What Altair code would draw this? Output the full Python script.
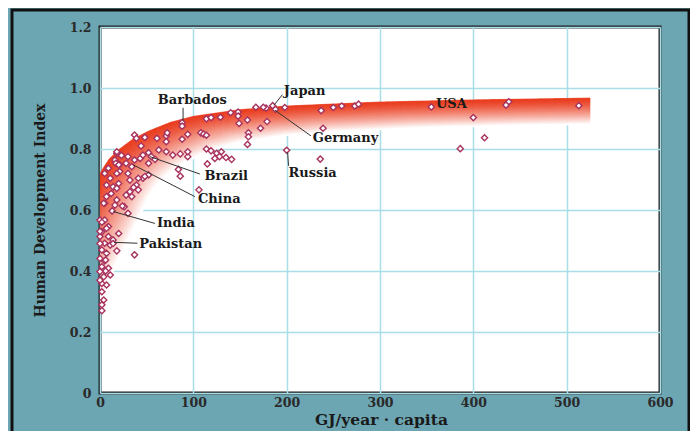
import numpy as np
import pandas as pd
import altair as alt

# ---- scatter data (GJ/year per capita, HDI) ----
gj = [355, 438, 435, 513, 400, 412, 386,
      185, 188, 198, 178, 167, 175, 237, 250, 259, 273, 277, 239, 179, 200, 236, 172,
      88, 88, 114, 119, 129, 140, 148, 148, 158, 149, 159, 159, 158,
      108, 111, 114, 94, 88, 71, 72, 71, 61, 48, 37, 39, 44,
      30, 23, 18, 16, 17, 21, 28, 34, 37, 43, 46, 52, 55, 52, 59, 63, 71, 78, 86, 94, 94,
      84, 86, 115, 114, 119, 125, 130, 128, 135, 141, 123, 106,
      5, 9, 11, 7, 14, 12, 7, 18, 5, 16, 26, 13, 20, 21, 32, 39, 36, 32, 41, 28, 46, 52,
      18, 30, 41, 48, 20, 18, 34, 4, 24, 30, 0, 5, 9, 2, 20,
      0, 9, 14, 5, 11, 18, 37, 2, 7, 0, 5, 2, 9, 11, 4, 2, 7, 2, 4, 2, 2,
      0, 6, 0, 6, 0, 14, 0, 7, 2, 18]
hdi = [0.938, 0.955, 0.944, 0.942, 0.903, 0.837, 0.801,
       0.942, 0.930, 0.936, 0.934, 0.937, 0.937, 0.926, 0.936, 0.941, 0.941, 0.947, 0.868, 0.890, 0.796, 0.767, 0.868,
       0.887, 0.875, 0.899, 0.903, 0.904, 0.919, 0.921, 0.908, 0.895, 0.884, 0.853, 0.840, 0.815,
       0.853, 0.849, 0.845, 0.848, 0.832, 0.843, 0.853, 0.824, 0.835, 0.838, 0.846, 0.835, 0.810,
       0.775, 0.779, 0.786, 0.764, 0.753, 0.749, 0.753, 0.742, 0.764, 0.769, 0.780, 0.788, 0.775, 0.753, 0.766, 0.797, 0.791, 0.780, 0.784, 0.775, 0.791,
       0.733, 0.711, 0.751, 0.800, 0.794, 0.786, 0.791, 0.775, 0.772, 0.766, 0.769, 0.666,
       0.720, 0.737, 0.704, 0.682, 0.676, 0.654, 0.644, 0.633, 0.622, 0.616, 0.611, 0.597, 0.748, 0.726, 0.698, 0.682, 0.674, 0.660, 0.666, 0.649, 0.704, 0.715,
       0.720, 0.720, 0.704, 0.710, 0.687, 0.671, 0.644, 0.622, 0.613, 0.589, 0.567, 0.567, 0.546, 0.529, 0.523,
       0.513, 0.513, 0.502, 0.491, 0.485, 0.466, 0.453, 0.469, 0.458, 0.441, 0.433, 0.414, 0.409, 0.387, 0.381, 0.359, 0.354, 0.332, 0.305, 0.289, 0.270,
       0.370, 0.400, 0.398, 0.436, 0.490, 0.490, 0.530, 0.540, 0.560, 0.791]

# ---- country labels ----
label_text = ["Barbados", "Japan", "Germany", "Russia", "Brazil", "China", "India", "Pakistan", "USA"]
label_x = [62, 197, 228, 202, 112, 105, 61, 42, 360]
label_y = [0.961, 0.989, 0.835, 0.720, 0.711, 0.636, 0.558, 0.489, 0.948]

# ---- leader lines ----
lead_x1 = [89, 195.4, 226, 201, 107, 101.6, 58.8, 40]
lead_y1 = [0.935, 0.978, 0.843, 0.790, 0.718, 0.644, 0.556, 0.491]
lead_x2 = [89, 186.5, 187.5, 202, 53.5, 35.6, 14.2, 15]
lead_y2 = [0.893, 0.944, 0.927, 0.745, 0.775, 0.748, 0.595, 0.494]

# ---- shaded envelope: top edge ----
band_top_gj = [-70, -52, -35, -22, -12, -5, 0, 5, 10, 21, 35, 53, 75, 100, 150, 200, 246, 300, 400, 525]
band_top_hdi = [0.2, 0.38, 0.5, 0.58, 0.64, 0.69, 0.72, 0.745, 0.768, 0.80, 0.832, 0.86, 0.887, 0.907,
                0.929, 0.941, 0.947, 0.954, 0.961, 0.967]
band_shift_gj = 52
band_shift_hdi = 0.085
band_steps = 34
band_red = (233, 56, 26)

xs = np.unique(np.concatenate([np.linspace(0, 40, 81), np.linspace(40, 525, 195)]))
rows = []
for k in range(band_steps):
    s0 = k / band_steps
    s1 = (k + 1) / band_steps
    y_hi = np.interp(xs - s0 * band_shift_gj, band_top_gj, band_top_hdi) - s0 * band_shift_hdi
    y_lo = np.interp(xs - s1 * band_shift_gj, band_top_gj, band_top_hdi) - s1 * band_shift_hdi
    f = (k / (band_steps - 1)) ** 1.35
    col = "#%02x%02x%02x" % tuple(int(round(c * (1 - f) + 255 * f)) for c in band_red)
    for xv, a, b in zip(xs, y_hi, y_lo):
        rows.append({"x": float(xv), "y": float(a), "y2": float(b), "k": k, "c": col})
band = pd.DataFrame(rows)

pts = pd.DataFrame({"x": gj, "y": hdi})
labels = pd.DataFrame({"x": label_x, "y": label_y, "label": label_text})
leads = pd.DataFrame({"x": lead_x1, "y": lead_y1, "x2": lead_x2, "y2": lead_y2})

W, H = 560, 366
xscale = alt.Scale(domain=[0, 600], nice=False, zero=False)
yscale = alt.Scale(domain=[0, 1.2], nice=False, zero=False)

FONT = "DejaVu Serif"

xaxis = alt.Axis(values=[0, 100, 200, 300, 400, 500, 600], grid=True, ticks=False, domain=False,
                 labelFlush=False,
                 labelFont=FONT, labelFontWeight="bold", labelFontSize=12.5, labelColor="#2a2a2a",
                 labelPadding=3, title="GJ/year \u00b7 capita", titleFont=FONT, titleFontSize=15.5,
                 titleFontWeight="bold", titleColor="#1a1a1a", titleX=281, titleY=31,
                 titleAlign="center", titleBaseline="alphabetic")
yaxis = alt.Axis(values=[0, 0.2, 0.4, 0.6, 0.8, 1.0, 1.2], grid=True, ticks=False, domain=False,
                 labelFlush=False,
                 labelExpr="datum.value == 0 ? '0' : format(datum.value, '.1f')",
                 labelFont=FONT, labelFontWeight="bold", labelFontSize=12.5, labelColor="#2a2a2a",
                 labelPadding=9, title="Human Development Index", titleFont=FONT, titleFontSize=14,
                 titleFontWeight="bold", titleColor="#1a1a1a", titleAngle=270, titleX=-60, titleY=183,
                 titleAlign="center", titleBaseline="middle")

band_layer = alt.Chart(band).mark_area(strokeWidth=0.7, clip=True).encode(
    x=alt.X("x:Q", scale=xscale, axis=xaxis),
    y=alt.Y("y:Q", scale=yscale, axis=yaxis),
    y2="y2:Q",
    color=alt.Color("c:N", scale=None),
    stroke=alt.Stroke("c:N", scale=None),
    detail="k:N",
)

point_layer = alt.Chart(pts).mark_point(shape="diamond", filled=True, fill="white",
                                        stroke="#a8325e", strokeWidth=1.4, size=38, opacity=1).encode(
    x="x:Q", y="y:Q")

lead_layer = alt.Chart(leads).mark_rule(color="#333333", strokeWidth=1).encode(
    x="x:Q", y="y:Q", x2="x2:Q", y2="y2:Q")

text_layer = alt.Chart(labels).mark_text(align="left", baseline="middle", font=FONT,
                                         fontWeight="bold", fontSize=13, color="#1a1a1a").encode(
    x="x:Q", y="y:Q", text="label:N")

frame_layer = alt.Chart(pd.DataFrame({"a": [0]})).mark_rect(
    fillOpacity=0, stroke="#111111", strokeWidth=3).encode(
    x=alt.value(-88), x2=alt.value(589), y=alt.value(-17), y2=alt.value(430))

chart = alt.layer(band_layer, point_layer, lead_layer, text_layer, frame_layer).properties(
    width=W, height=H,
    autosize=alt.AutoSizeParams(type="none"),
    padding={"left": 92, "top": 19, "right": 30, "bottom": 38},
    background="#6da6b3",
).configure_view(
    fill="white", stroke="#1c1c1c", strokeWidth=3
).configure_axis(
    gridColor="#a9dde8", gridWidth=1.5, gridOpacity=1
)

chart.save("out.html", embed_options={"renderer": "svg", "actions": False})
